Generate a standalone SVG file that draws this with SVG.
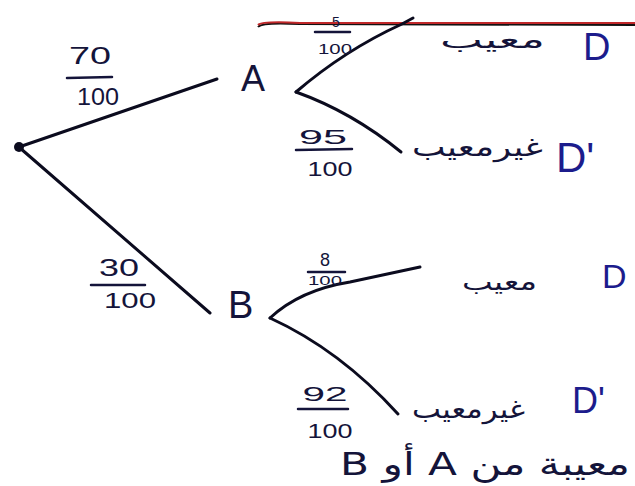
<svg xmlns="http://www.w3.org/2000/svg" width="635" height="486" viewBox="0 0 635 486">
<style>
.ln{fill:none;stroke:#0b0b1e;stroke-width:3;stroke-linecap:round}
.bar{stroke:#14143a;stroke-width:2.5;stroke-linecap:round}
.num{font-family:"Liberation Sans",sans-serif;fill:#14143a;text-anchor:middle}
.ar{font-family:"DejaVu Sans",sans-serif;fill:#14143a}
.node{font-family:"Liberation Sans",sans-serif;fill:#14143a}
.d{font-family:"Liberation Sans",sans-serif;fill:#1c1c8c}
</style>
<rect width="635" height="486" fill="#ffffff"/>
<g id="header">
<path d="M258,27 Q262,22 300,24 L635,25" fill="none" stroke="#111" stroke-width="2"/>
<path d="M258,25 Q262,21 300,23 L635,23" fill="none" stroke="#c0282a" stroke-width="2"/>
</g>
<g id="connectors">
<line class="ln" x1="19" y1="147" x2="217" y2="79"/>
<line class="ln" x1="20" y1="148" x2="210" y2="313" stroke-width="2.5"/>
<path class="ln" d="M296,92 Q345,50 402,24 L413,18"/>
<path class="ln" d="M296,92 Q352,112 401,152"/>
<path class="ln" d="M270,318 Q300,290 350,282 L420,267"/>
<path class="ln" d="M270,318 Q340,350 398,414"/>
</g>
<g id="root"><circle cx="19" cy="147" r="5" fill="#0b0b1e"/></g>
<g id="p70">
<text class="num" x="90" y="64" font-size="24" textLength="42" lengthAdjust="spacingAndGlyphs">70</text>
<line class="bar" x1="67" y1="78" x2="112" y2="77"/>
<text class="num" x="98" y="105" font-size="23" textLength="42" lengthAdjust="spacingAndGlyphs">100</text>
</g>
<g id="p30">
<text class="num" x="119" y="276" font-size="23" textLength="40" lengthAdjust="spacingAndGlyphs">30</text>
<line class="bar" x1="91" y1="285" x2="145" y2="285"/>
<text class="num" x="130" y="308" font-size="22" textLength="52" lengthAdjust="spacingAndGlyphs">100</text>
</g>
<g id="nodeA"><text class="node" x="241" y="91" font-size="36">A</text></g>
<g id="nodeB"><text class="node" x="228" y="318" font-size="38">B</text></g>
<g id="p5">
<text class="num" x="336" y="27" font-size="14">5</text>
<line class="bar" x1="315" y1="32" x2="350" y2="32" stroke-width="2"/>
<text class="num" x="335" y="54" font-size="15" textLength="34" lengthAdjust="spacingAndGlyphs">100</text>
</g>
<g id="p95">
<text class="num" x="323" y="144" font-size="21" textLength="48" lengthAdjust="spacingAndGlyphs">95</text>
<line class="bar" x1="296" y1="150" x2="352" y2="149"/>
<text class="num" x="330" y="176" font-size="21" textLength="45" lengthAdjust="spacingAndGlyphs">100</text>
</g>
<g id="p8">
<text class="num" x="325" y="266" font-size="18">8</text>
<line class="bar" x1="308" y1="272" x2="345" y2="272" stroke-width="2"/>
<text class="num" x="325" y="285" font-size="13" textLength="34" lengthAdjust="spacingAndGlyphs">100</text>
</g>
<g id="p92">
<text class="num" x="325" y="401" font-size="21" textLength="45" lengthAdjust="spacingAndGlyphs">92</text>
<line class="bar" x1="298" y1="409" x2="348" y2="409"/>
<text class="num" x="330" y="438" font-size="21" textLength="45" lengthAdjust="spacingAndGlyphs">100</text>
</g>
<g id="leafAD">
<text class="ar" x="440" y="48" font-size="24" textLength="105" lengthAdjust="spacingAndGlyphs">معيب</text>
<text class="d" x="583" y="60" font-size="38">D</text>
</g>
<g id="leafAD2">
<text class="ar" x="412" y="156" font-size="26" textLength="131" lengthAdjust="spacingAndGlyphs">غيرمعيب</text>
<text class="d" x="556" y="172" font-size="42">D'</text>
</g>
<g id="leafBD">
<text class="ar" x="462" y="290" font-size="24" textLength="75" lengthAdjust="spacingAndGlyphs">معيب</text>
<text class="d" x="602" y="288" font-size="34">D</text>
</g>
<g id="leafBD2">
<text class="ar" x="412" y="418" font-size="26" textLength="113" lengthAdjust="spacingAndGlyphs">غيرمعيب</text>
<text class="d" x="572" y="413" font-size="36">D'</text>
</g>
<g id="footer">
<text class="ar" x="340" y="475" font-size="32" textLength="290" lengthAdjust="spacingAndGlyphs">B أو A معيبة من</text>
</g>
</svg>
